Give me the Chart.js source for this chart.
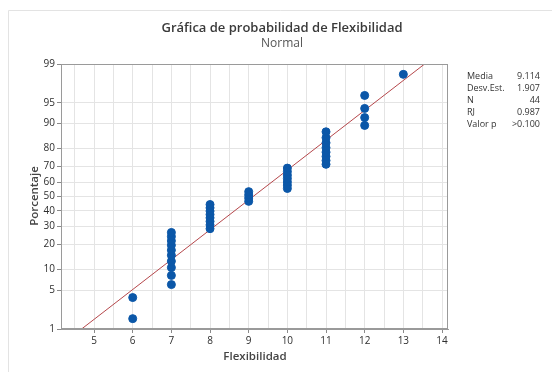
<!DOCTYPE html>
<html>
<head>
<meta charset="utf-8">
<script src="https://cdn.jsdelivr.net/npm/chart.js@4/dist/chart.umd.min.js"></script>
<style>
  html, body { margin: 0; padding: 0; background: #ffffff; }
  #wrap { position: relative; width: 552px; height: 372px; }
</style>
</head>
<body>
<div id="wrap"><canvas id="c" width="552" height="372"></canvas></div>
<script>
// Observed Flexibilidad values, sorted
const flexibilidad = [6, 6,
  7, 7, 7, 7, 7, 7, 7, 7, 7, 7,
  8, 8, 8, 8, 8, 8, 8, 8,
  9, 9, 9, 9,
  10, 10, 10, 10, 10, 10, 10,
  11, 11, 11, 11, 11, 11, 11, 11,
  12, 12, 12, 12,
  13];
// Plotted cumulative percentage for each observation
const porcentaje = [1.6, 3.8,
  6.1, 8.3, 10.6, 12.8, 15.1, 17.3, 19.6, 21.8, 24.1, 26.4,
  28.6, 30.9, 33.1, 35.4, 37.6, 39.9, 42.1, 44.4,
  46.6, 48.9, 51.1, 53.4,
  55.6, 57.9, 60.1, 62.4, 64.6, 66.9, 69.1,
  71.4, 73.6, 75.9, 78.2, 80.4, 82.7, 84.9, 87.2,
  89.4, 91.7, 93.9, 96.2,
  98.4];
// Probability-axis tick labels
const yTicks = [1, 5, 10, 20, 30, 40, 50, 60, 70, 80, 90, 95, 99];
const xTicks = [5, 6, 7, 8, 9, 10, 11, 12, 13, 14];
// Summary table
const statLabels = ['Media', 'Desv.Est.', 'N', 'RJ', 'Valor p'];
const statValues = ['9.114', '1.907', '44', '0.987', '>0.100'];
const media = 9.114;
const desvEst = 1.907;

// Inverse standard normal CDF (Acklam) used for the probability scale
function normInv(p) {
  const a = [-3.969683028665376e+01, 2.209460984245205e+02, -2.759285104469687e+02, 1.383577518672690e+02, -3.066479806614716e+01, 2.506628277459239e+00];
  const b = [-5.447609879822406e+01, 1.615858368580409e+02, -1.556989798598866e+02, 6.680131188771972e+01, -1.328068155288572e+01];
  const c = [-7.784894002430293e-03, -3.223964580411365e-01, -2.400758277161838e+00, -2.549732539343734e+00, 4.374664141464968e+00, 2.938163982698783e+00];
  const d = [7.784695709041462e-03, 3.224671290700398e-01, 2.445134137142996e+00, 3.754408661907416e+00];
  const pl = 0.02425, ph = 1 - pl;
  let q, r;
  if (p < pl) {
    q = Math.sqrt(-2 * Math.log(p));
    return (((((c[0]*q+c[1])*q+c[2])*q+c[3])*q+c[4])*q+c[5]) / ((((d[0]*q+d[1])*q+d[2])*q+d[3])*q+1);
  } else if (p <= ph) {
    q = p - 0.5; r = q*q;
    return (((((a[0]*r+a[1])*r+a[2])*r+a[3])*r+a[4])*r+a[5])*q / (((((b[0]*r+b[1])*r+b[2])*r+b[3])*r+b[4])*r+1);
  } else {
    q = Math.sqrt(-2 * Math.log(1 - p));
    return -(((((c[0]*q+c[1])*q+c[2])*q+c[3])*q+c[4])*q+c[5]) / ((((d[0]*q+d[1])*q+d[2])*q+d[3])*q+1);
  }
}

const zMin = normInv(yTicks[0] / 100);
const zMax = normInv(yTicks[yTicks.length - 1] / 100);

const points = flexibilidad.map((v, i) => ({ x: v, y: normInv(porcentaje[i] / 100) }));
// Fitted normal line from the mean and standard deviation
const fitLine = [zMin, zMax].map(z => ({ x: media + desvEst * z, y: z }));

const FONT = "'Open Sans', 'Noto Sans', sans-serif";
const PLOT = { left: 61, top: 64, right: 448, bottom: 329 };

const decor = {
  id: 'decor',
  beforeDraw(chart) {
    const ctx = chart.ctx;
    ctx.save();
    ctx.fillStyle = '#ffffff';
    ctx.fillRect(0, 0, chart.width, chart.height);
    ctx.strokeStyle = '#e3e3e3';
    ctx.lineWidth = 1;
    ctx.beginPath();
    ctx.moveTo(8.5, chart.height);
    ctx.lineTo(8.5, 10.5);
    ctx.lineTo(chart.width, 10.5);
    ctx.stroke();
    ctx.restore();
  },
  afterDraw(chart) {
    const ctx = chart.ctx;
    const a = chart.chartArea;
    ctx.save();
    // frame of the plot area
    ctx.strokeStyle = '#9a9a9a';
    ctx.lineWidth = 1;
    ctx.strokeRect(Math.round(a.left) + 0.5, Math.round(a.top) + 0.5,
      Math.round(a.right - a.left) - 1, Math.round(a.bottom - a.top) - 1);

    // titles
    ctx.textAlign = 'center';
    ctx.textBaseline = 'middle';
    ctx.fillStyle = '#3a3a3a';
    ctx.font = `600 13px ${FONT}`;
    ctx.fillText('Gráfica de probabilidad de Flexibilidad', 282, 28);
    ctx.fillStyle = '#555555';
    ctx.font = `12px ${FONT}`;
    ctx.fillText('Normal', 282, 44);

    // axis titles
    ctx.fillStyle = '#444444';
    ctx.font = `600 11.5px ${FONT}`;
    ctx.fillText('Flexibilidad', 255, 357);
    ctx.save();
    ctx.translate(35, 196);
    ctx.rotate(-Math.PI / 2);
    ctx.fillText('Porcentaje', 0, 0);
    ctx.restore();

    // summary table
    ctx.font = `9px ${FONT}`;
    ctx.fillStyle = '#333333';
    statLabels.forEach((t, i) => {
      const y = 76.5 + i * 12;
      ctx.textAlign = 'left';
      ctx.fillText(t, 467, y);
      ctx.textAlign = 'right';
      ctx.fillText(statValues[i], 540, y);
    });
    ctx.restore();
  }
};

new Chart(document.getElementById('c'), {
  type: 'scatter',
  data: {
    datasets: [
      {
        type: 'line',
        data: fitLine,
        borderColor: '#b5474b',
        borderWidth: 1,
        pointRadius: 0,
        fill: false,
        order: 2
      },
      {
        data: points,
        backgroundColor: '#0b57a8',
        borderColor: '#0b57a8',
        pointRadius: 4,
        pointHoverRadius: 4,
        order: 1
      }
    ]
  },
  plugins: [decor],
  options: {
    responsive: false,
    animation: false,
    devicePixelRatio: 1,
    layout: { padding: { left: 0, top: PLOT.top, right: 552 - PLOT.right, bottom: 0 } },
    plugins: { legend: { display: false }, tooltip: { enabled: false } },
    scales: {
      x: {
        type: 'linear',
        min: 4.145,
        max: 14.155,
        afterFit(s) { s.height = 372 - PLOT.bottom; },
        afterBuildTicks(s) {
          const t = [];
          for (let v = 4.5; v <= 14.0001; v += 0.5) t.push({ value: v });
          s.ticks = t;
        },
        ticks: {
          autoSkip: false,
          maxRotation: 0,
          padding: 2,
          color: '#2e2e2e',
          font: { family: FONT, size: 10 },
          callback: (v) => (xTicks.includes(v) ? String(v) : '')
        },
        grid: {
          color: '#e4e4e4',
          lineWidth: 1,
          tickLength: 4,
          tickColor: (c) => (c.tick && Number.isInteger(c.tick.value) ? '#8a8a8a' : 'rgba(0,0,0,0)')
        },
        border: { display: true, color: '#9a9a9a' }
      },
      y: {
        type: 'linear',
        min: zMin,
        max: zMax,
        afterFit(s) { s.width = PLOT.left; },
        afterBuildTicks(s) {
          s.ticks = yTicks.map(p => ({ value: normInv(p / 100), label: String(p) }));
        },
        ticks: {
          autoSkip: false,
          padding: 2,
          color: '#2e2e2e',
          font: { family: FONT, size: 10 },
          callback: (v, i) => String(yTicks[i])
        },
        grid: {
          color: '#e4e4e4',
          lineWidth: 1,
          tickLength: 4,
          tickColor: '#8a8a8a'
        },
        border: { display: true, color: '#9a9a9a' }
      }
    }
  }
});
</script>
</body>
</html>
